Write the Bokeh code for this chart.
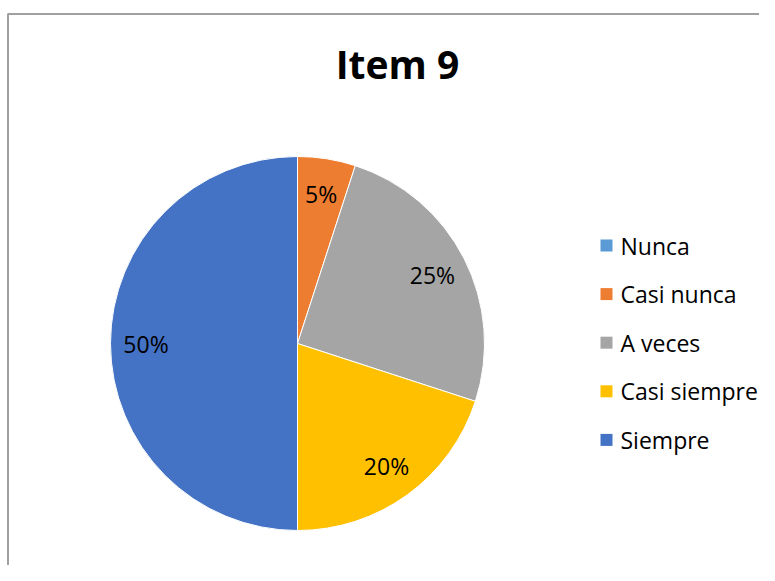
import math
from bokeh.plotting import figure
from bokeh.models import Range1d, ColumnDataSource
from bokeh.core.properties import value
from bokeh.embed import file_html
from bokeh.resources import INLINE

title = "Item 9"
categories = ["Nunca", "Casi nunca", "A veces", "Casi siempre", "Siempre"]
percents = [0, 5, 25, 20, 50]
colors = ["#5B9BD5", "#ED7D31", "#A5A5A5", "#FFC000", "#4472C4"]

W, H = 759, 565
# data coords: x_img = x, y_img = 581 - y
p = figure(width=W, height=H, output_backend="svg", toolbar_location=None,
           x_range=Range1d(0, W), y_range=Range1d(581 - H, 581),
           min_border=0)
p.xaxis.visible = False
p.yaxis.visible = False
p.xgrid.visible = False
p.ygrid.visible = False
p.outline_line_color = None
p.background_fill_color = "white"

FONT = "Open Sans"

# chart border
p.line(x=[7.5, 7.5, 800], y=[-50, 581 - 13.5, 581 - 13.5], line_color="#A0A0A0", line_width=2)

cx, cy, R = 297, 581 - 343, 187
total = sum(percents)
starts, ends, lx, ly, labels, cols = [], [], [], [], [], []
cum = 0
for cat, v, c in zip(categories, percents, colors):
    a0 = math.pi / 2 - 2 * math.pi * cum / total
    a1 = math.pi / 2 - 2 * math.pi * (cum + v) / total
    if v > 0:
        starts.append(a0)
        ends.append(a1)
        cols.append(c)
        mid = (a0 + a1) / 2
        lx.append(cx + 0.81 * R * math.cos(mid))
        ly.append(cy + 0.81 * R * math.sin(mid))
        labels.append(f"{v}%")
    cum += v

src = ColumnDataSource(dict(s=starts, e=ends, c=cols))
p.wedge(x=cx, y=cy, radius=R, radius_units="data", start_angle="s", end_angle="e",
        direction="clock", fill_color="c", line_color="white", line_width=1, source=src)

p.text(x=lx, y=ly, text=labels, text_align="center", text_baseline="middle",
       text_font=value(FONT), text_font_size="23px", text_color="#000000")

# title
p.text(x=[397], y=[581 - 63], text=[title], text_align="center", text_baseline="middle",
       text_font=value(FONT), text_font_size="39px", text_font_style="bold", text_color="#000000")

# legend
ly0 = 581 - 245
step = 48.6
leg_y = [ly0 - i * step for i in range(len(categories))]
p.rect(x=[606] * len(categories), y=leg_y, width=12, height=12, fill_color=colors, line_color=None)
p.text(x=[620] * len(categories), y=leg_y, text=categories, text_align="left", text_baseline="middle",
       text_font=value(FONT), text_font_size="23px", text_color="#000000")

open("out.html", "w").write(file_html(p, INLINE))
